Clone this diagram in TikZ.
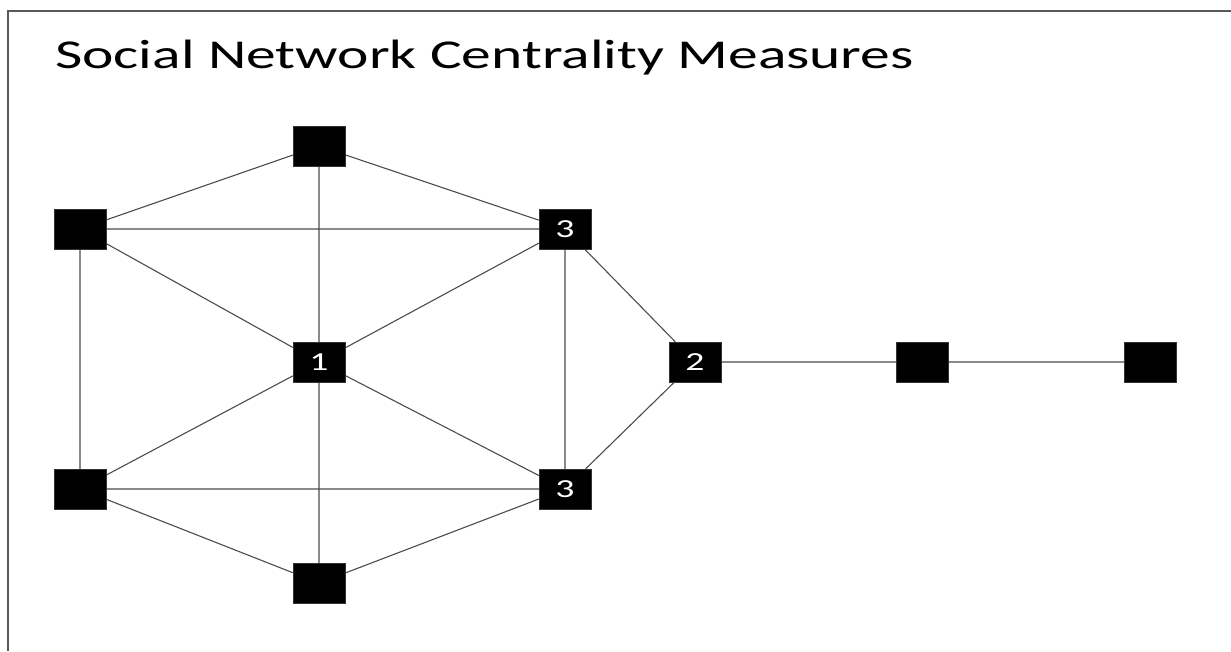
\documentclass[tikz,border=0pt]{standalone}
\usepackage{fontspec}
\setmainfont{Carlito}
\usetikzlibrary{backgrounds}
\newcommand{\wide}[1]{\scalebox{1.45}[1]{#1}}
\begin{document}
\begin{tikzpicture}[x=1pt,y=-1pt,
  sq/.style={draw=black!80, fill=black, minimum width=52pt, minimum height=40pt, inner sep=0pt, text=white, font=\fontsize{26}{26}\selectfont},
  edge/.style={draw=black!70, line width=1.1pt}]
\useasboundingbox (0,0) rectangle (1231,651);
\draw[draw=black!65, line width=2pt] (1231,11) -- (8,11) -- (8,651);
\node[anchor=base west, font=\fontsize{41}{41}\selectfont, inner sep=0pt] (title) at (55,68) {\wide{Social Network Centrality Measures}};
\node[sq] (t) at (319,146) {};
\node[sq] (ul) at (80,229) {};
\node[sq] (u3) at (565,229) {\wide{3}};
\node[sq] (c) at (319,362) {\wide{1}};
\node[sq] (b2) at (695,362) {\wide{2}};
\node[sq] (r1) at (922,362) {};
\node[sq] (r2) at (1150,362) {};
\node[sq] (ll) at (80,489) {};
\node[sq] (l3) at (565,489) {\wide{3}};
\node[sq] (b) at (319,583) {};
\begin{scope}[on background layer]
\path[edge] (t) -- (ul) (t) -- (u3) (t) -- (c)
 (ul) -- (u3) (ul) -- (c) (ul) -- (ll)
 (u3) -- (c) (u3) -- (l3) (u3) -- (b2)
 (c) -- (ll) (c) -- (l3) (c) -- (b)
 (ll) -- (l3) (ll) -- (b)
 (l3) -- (b) (l3) -- (b2)
 (b2) -- (r1) (r1) -- (r2);
\end{scope}
\end{tikzpicture}
\end{document}
